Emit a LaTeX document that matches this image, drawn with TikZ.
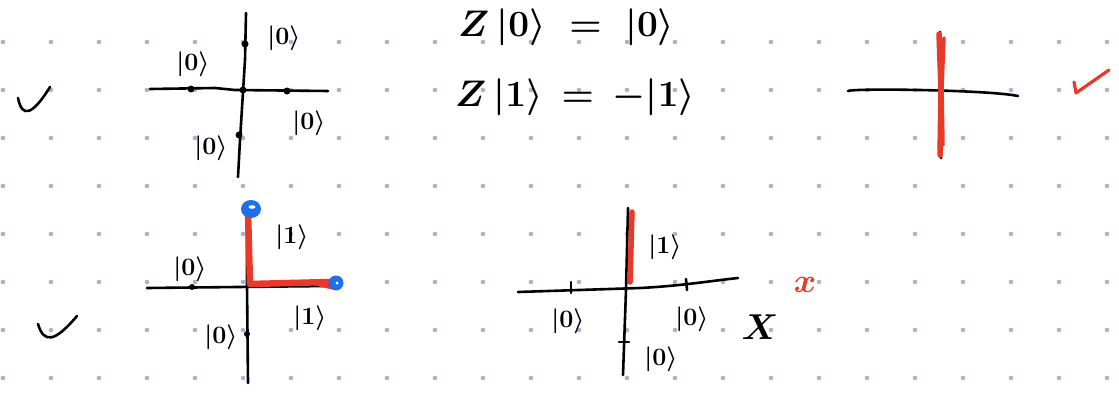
\RequirePackage{fix-cm}
\documentclass[tikz,border=0pt]{standalone}
\definecolor{dotc}{HTML}{A2B4D8}
\definecolor{penred}{HTML}{E8392A}
\definecolor{penblue}{HTML}{1F6FE8}
\begin{document}
\begin{tikzpicture}[x=1pt,y=-1pt,
  pen/.style={line width=2.6pt,line cap=round,line join=round},
  redpen/.style={line width=5.5pt,line cap=round,line join=round,draw=penred},
  lbl/.style={font=\fontsize{25}{28}\selectfont\boldmath,inner sep=0pt},
  eqn/.style={font=\fontsize{37}{42}\selectfont\boldmath,inner sep=0pt,anchor=west}]
\useasboundingbox (0,0) rectangle (1119,396);
\fill[white] (0,0) rectangle (1119,396);
\foreach \i in {0,...,23} \foreach \j in {0,...,7} \fill[dotc] (3+48*\i,42+48*\j) circle (2.3);

% ---- top-left check
\draw[pen] (18,98) .. controls (22,118) and (32,116) .. (50,87);
% ---- top-left axes
\draw[pen] (150,89) -- (215,88) -- (235,90) -- (328,91);
\draw[pen] (246,13) -- (245,60) -- (240,140) -- (238,177);
\foreach \p in {(245,44),(191,89),(243,90),(287,91),(239,135)} \fill \p circle (3.5);
\node[lbl] (tl1) at (284,38) {$|0\rangle$};
\node[lbl] (tl2) at (193,64) {$|0\rangle$};
\node[lbl] (tl3) at (309,123) {$|0\rangle$};
\node[lbl] (tl4) at (211,148) {$|0\rangle$};

% ---- equations
\node[eqn] (eq1) at (458,27) {$Z\,|0\rangle \;=\; |0\rangle$};
\node[eqn] (eq2) at (455,97) {$Z\,|1\rangle \,=\, -|1\rangle$};

% ---- top-right axes
\draw[pen] (848,91) .. controls (855,88) and (990,90) .. (1018,96);
\draw[pen] (940,32) -- (941,158);
\draw[redpen] (939,34) -- (941,90) -- (940,155);
\draw[redpen,line width=3.5pt] (944,38) -- (942,88) -- (943,145);
\draw[penred,line width=3.2pt,line cap=round,line join=round] (1074,82) -- (1076,93) -- (1109,70);

% ---- bottom-left check
\draw[pen] (38,324) .. controls (44,344) and (55,342) .. (77,316);
% ---- bottom-left axes
\draw[pen] (147,288) -- (328,286);
\draw[pen] (247,208) -- (247,286) -- (248,383);
\fill (192,287) circle (3);
\fill (247,334) circle (3);
\draw[redpen,line width=6.5pt] (248,212) -- (250,284) -- (330,282);
\draw[penred,line width=3pt,line cap=round] (315,284) -- (332,288);
\fill[penblue] (251,209) ellipse (10 and 9);
\fill[white] (252,207) ellipse (3.5 and 1.8);
\fill[penblue] (336,283) circle (7.5);
\fill[white] (337,283) circle (1.6);
\node[lbl] (bl1) at (292,237) {$|1\rangle$};
\node[lbl] (bl2) at (190,269) {$|0\rangle$};
\node[lbl] (bl3) at (310,318) {$|1\rangle$};
\node[lbl] (bl4) at (221,337) {$|0\rangle$};

% ---- bottom-middle axes
\draw[pen] (518,292) -- (640,288) .. controls (680,286) and (710,281) .. (738,278);
\draw[pen] (628,208) -- (626,290) -- (623,375);
\draw[pen] (571,282) -- (571,293);
\draw[pen] (686,279) -- (687,290);
\draw[pen] (619,342) -- (629,342);
\draw[redpen] (632,212) -- (630,282);
\node[lbl] (bm1) at (665,247) {$|1\rangle$};
\node[lbl] (bm2) at (568,321) {$|0\rangle$};
\node[lbl] (bm3) at (692,319) {$|0\rangle$};
\node[lbl] (bm4) at (661,359) {$|0\rangle$};
\node[font=\fontsize{36}{40}\selectfont\boldmath,inner sep=0pt] (bmX) at (760,327) {$X$};
\node[font=\fontsize{34}{38}\selectfont\boldmath,inner sep=0pt,text=penred] (bmx) at (805,285) {$x$};
\end{tikzpicture}
\end{document}
